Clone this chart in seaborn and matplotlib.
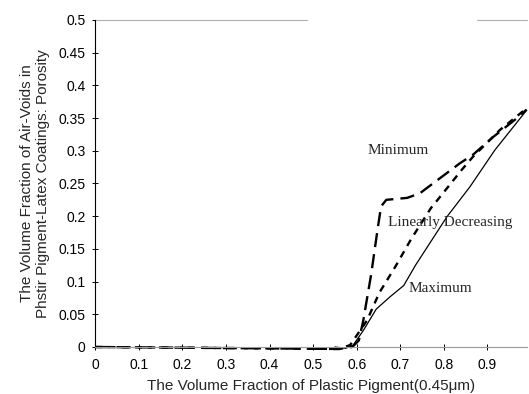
import numpy as np
import pandas as pd
import matplotlib
matplotlib.use("Agg")
import matplotlib.pyplot as plt
import seaborn as sns

# Porosity curves vs. plastic pigment volume fraction
min_x = [0.0, 0.56, 0.59, 0.605, 0.615, 0.633, 0.648, 0.656, 0.668, 0.716, 0.745, 0.775, 0.807, 0.837, 0.867, 0.913, 0.968, 0.99]
min_y = [0.0, -0.003, 0.0, 0.01, 0.04, 0.11, 0.18, 0.215, 0.225, 0.228, 0.235, 0.25, 0.266, 0.281, 0.294, 0.321, 0.35, 0.363]

lin_x = [0.0, 0.56, 0.585, 0.624, 0.652, 0.688, 0.725, 0.77, 0.81, 0.84, 0.867, 0.929, 0.99]
lin_y = [0.0, -0.003, 0.003, 0.041, 0.083, 0.122, 0.165, 0.212, 0.245, 0.27, 0.291, 0.332, 0.365]

max_x = [0.55, 0.575, 0.592, 0.615, 0.645, 0.677, 0.708, 0.735, 0.807, 0.86, 0.917, 0.99]
max_y = [0.0, -0.002, 0.003, 0.025, 0.058, 0.077, 0.094, 0.125, 0.199, 0.245, 0.301, 0.362]

x_ticks = [0, 0.1, 0.2, 0.3, 0.4, 0.5, 0.6, 0.7, 0.8, 0.9]
x_tick_labels = ["0", "0.1", "0.2", "0.3", "0.4", "0.5", "0.6", "0.7", "0.8", "0.9"]
y_ticks = [0, 0.05, 0.1, 0.15, 0.2, 0.25, 0.3, 0.35, 0.4, 0.45, 0.5]
y_tick_labels = ["0", "0.05", "0.1", "0.15", "0.2", "0.25", "0.3", "0.35", "0.4", "0.45", "0.5"]

sns.set_theme(style="white")
plt.rcParams["font.family"] = ["Liberation Sans", "DejaVu Sans"]

fig = plt.figure(figsize=(5.29, 3.94), dpi=100)
ax = fig.add_axes([0.18, 0.1193, 0.8155, 0.830])

line_kw = dict(ax=ax, color="black", sort=False, estimator=None, clip_on=False)
sns.lineplot(x=min_x, y=min_y, linewidth=1.7, linestyle=(0, (6, 3)), **line_kw)
sns.lineplot(x=lin_x, y=lin_y, linewidth=1.7, linestyle=(0, (3.0, 2.6)), **line_kw)
sns.lineplot(x=max_x, y=max_y, linewidth=0.9, linestyle="-", **line_kw)

ax.set_xlim(0, 0.99)
ax.set_ylim(0, 0.5)
ax.set_xticks(x_ticks)
ax.set_xticklabels(x_tick_labels)
ax.set_yticks(y_ticks)
ax.set_yticklabels(y_tick_labels)
ax.tick_params(axis="both", direction="inout", length=4, width=0.7,
               colors="black", labelsize=10, left=True, bottom=True)
ax.tick_params(axis="x", pad=6)
ax.tick_params(axis="y", pad=5)

for side in ("right", "top"):
    ax.spines[side].set_visible(False)
ax.spines["left"].set_color("black")
ax.spines["left"].set_linewidth(0.8)
ax.spines["bottom"].set_color("#9a9a9a")
ax.spines["bottom"].set_linewidth(0.8)

# faint upper frame segments
ax.plot([0, 0.49], [1, 1], transform=ax.transAxes, color="#b0b0b0", lw=0.8, clip_on=False)
ax.plot([0.885, 1.0], [1, 1], transform=ax.transAxes, color="#b0b0b0", lw=0.8, clip_on=False)

serif = ["Liberation Serif", "DejaVu Serif"]
ax.text(0.626, 0.300, "Minimum", family=serif, fontsize=11, va="center", ha="left")
ax.text(0.672, 0.191, "Linearly Decreasing", family=serif, fontsize=11, va="center", ha="left")
ax.text(0.72, 0.090, "Maximum", family=serif, fontsize=11, va="center", ha="left")

ax.set_xlabel("The Volume Fraction of Plastic Pigment(0.45\u03bcm)", fontsize=11, labelpad=5)
ax.set_ylabel("The Volume Fraction of Air-Voids in\nPhstir Pigment-Latex Coatings: Porosity",
              fontsize=11, labelpad=6, linespacing=1.2)

fig.savefig("out.png", dpi=100)
